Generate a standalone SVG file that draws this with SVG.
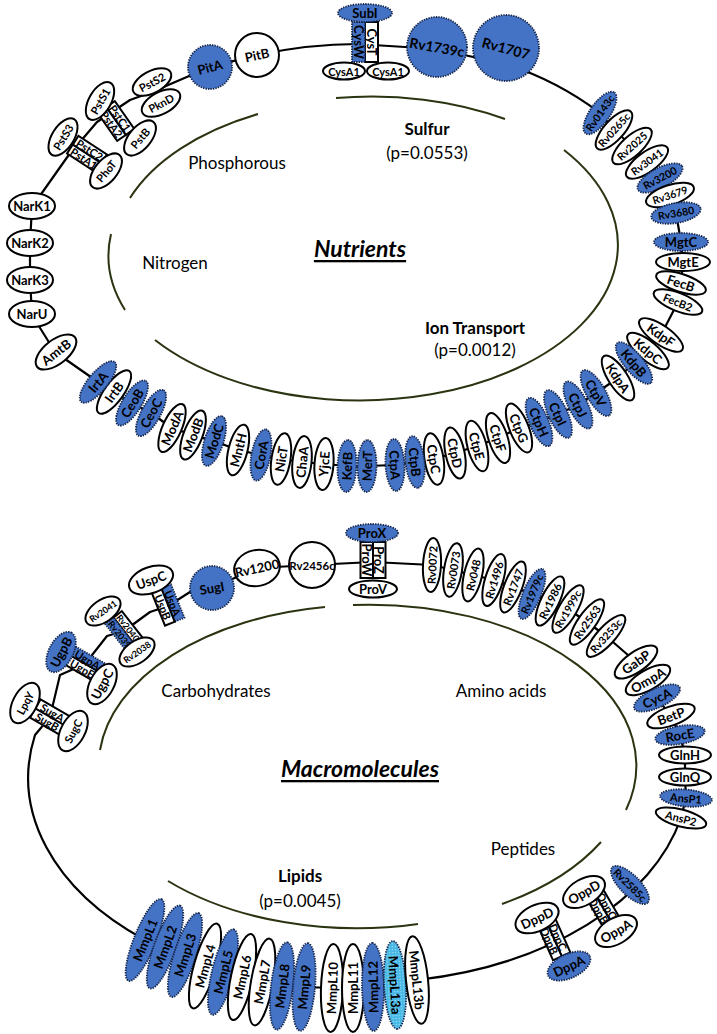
<svg xmlns="http://www.w3.org/2000/svg" width="717" height="1034" viewBox="0 0 717 1034">
<defs>
<style>
.w{fill:#fff;stroke:#000;stroke-width:2}
.b{fill:#4472c4;stroke:#14264d;stroke-width:1.8;stroke-dasharray:1.4 1.1}
.c{fill:url(#hatch);stroke:#14264d;stroke-width:1.8;stroke-dasharray:1.4 1.1}
.ring{fill:none;stroke:#000;stroke-width:2.2;stroke-linejoin:round}
.arc{fill:none;stroke:#2a3410;stroke-width:2}
text{font-family:Lato,'Open Sans',sans-serif;text-anchor:middle;dominant-baseline:central;fill:#000}
.t{font-weight:bold;font-size:13px}
.s{font-weight:bold;font-size:11px}
.r{font-weight:bold;font-size:10.5px}
.big{font-weight:bold;font-size:14px}
.lab{font-size:17px}
.labb{font-size:17px;font-weight:bold}
.title{font-size:23px;font-weight:bold;font-style:italic;text-decoration:underline}
</style>
<pattern id="hatch" width="3" height="3" patternUnits="userSpaceOnUse"><rect width="3" height="3" fill="#46b8e6"/><rect width="1.2" height="1.2" fill="#a6def4"/></pattern>
</defs>
<rect width="717" height="1034" fill="#fff"/>

<g id="connectors">
<path class="ring" d="M257 55 Q310 44 357 44 L437 49 L505 64 Q556 80 600 113 L614 130 L632 146 L647 162 L660 178 L670 195 L676 213 L681 242 L683 262 L681 283 L678 302 L661 335 L648 351 L634 363 L618 378 L596 393 L578 405 L558 414 L539 422 L519 428 L498 438 L477 446 L455 453 L434 459 L415 462 L395 465 L367 466 L347 466 L324 464 L302 462 L281 459 L261 455 L238 450 L214 441 L193 435 L172 428 L151 413 L132 403 L114 392 L98 382 L55 352 L32 315 L30 279 L30 243 L32 207 L68 156 L97 122 L130 100 L152 92 L210 67 Z"/>
<path class="ring" d="M212 588 L257 568 L312 565 L373 562 L432 565 L453 570 L473 575 L494 580 L513 587 L532 594 L550 601 L568 609 L587 622 L606 636 L636 662 L648 680 L657 698 L671 716 L680 735 L685 755 L685 777 L686 798 L681 818 A328 212 0 0 1 417 980 L395 985 L373 987 L353 988 L332 988 L304 987 L282 986 L262 982 L242 977 L223 972 L205 966 L185 955 L165 947 L145 940 A328 212 0 0 1 35 735 L50 717 L60 675 L85 664 L107 636 L124 631 L150 612 L168 606 L190 592 Z"/>
</g>

<g id="inner-arcs">
<path class="arc" d="M125 310 A256 154 0 0 1 111 234"/>
<path class="arc" d="M130 198 A256 154 0 0 1 258 114"/>
<path class="arc" d="M336 98 A256 154 0 0 1 505 119"/>
<path class="arc" d="M564 150 A256 154 0 1 1 155 340"/>
<path class="arc" d="M100 750 A267 161 0 0 1 325 607"/>
<path class="arc" d="M353 605 A267 161 0 0 1 626 810"/>
<path class="arc" d="M601 842 A267 161 0 0 1 502 904"/>
<path class="arc" d="M418 924 A267 161 0 0 1 168 881"/>
</g>

<g id="labels">
<text class="labb" x="427" y="128">Sulfur</text>
<text class="lab" x="427" y="152">(p=0.0553)</text>
<text class="lab" x="237" y="162">Phosphorous</text>
<text class="lab" x="175" y="262">Nitrogen</text>
<text class="title" x="360" y="248">Nutrients</text>
<text class="labb" x="475" y="327">Ion Transport</text>
<text class="lab" x="475" y="349">(p=0.0012)</text>
<text class="lab" x="216" y="690">Carbohydrates</text>
<text class="lab" x="501" y="690">Amino acids</text>
<text class="title" x="360" y="768">Macromolecules</text>
<text class="lab" x="523" y="848">Peptides</text>
<text class="labb" x="300" y="875">Lipids</text>
<text class="lab" x="300" y="900">(p=0.0045)</text>
</g>

<!-- Sulfur complex -->
<g id="cys-complex">
<g transform="translate(365,42) rotate(90)">
<rect class="w" x="-20" y="-13" width="40" height="13"/>
<rect class="b" x="-20" y="0" width="40" height="13"/>
<text class="t" x="0" y="-6.5">CysT</text>
<text class="t" x="0" y="6.5">CysW</text>
</g>
</g>
<g id="n-SubI"><ellipse class="b" cx="365" cy="13" rx="27" ry="9"/><text class="t" x="365" y="13">SubI</text></g>
<g id="n-CysA1a"><ellipse class="w" cx="344" cy="71" rx="21" ry="8.5"/><text class="s" x="344" y="71">CysA1</text></g>
<g id="n-CysA1b"><ellipse class="w" cx="388" cy="71" rx="21" ry="8.5"/><text class="s" x="388" y="71">CysA1</text></g>
<g id="n-PitA"><circle class="b" cx="210" cy="67" r="22"/><text class="t" x="210" y="67" transform="rotate(-15 210 67)">PitA</text></g>
<g id="n-PitB"><circle class="w" cx="257" cy="55" r="22"/><text class="t" x="257" y="55" transform="rotate(-12 257 55)">PitB</text></g>
<g id="n-Rv1739c"><circle class="b" cx="437" cy="47" r="30"/><text class="big" x="437" y="47" transform="rotate(10 437 47)">Rv1739c</text></g>
<g id="n-Rv1707"><circle class="b" cx="506" cy="48" r="33"/><text class="big" x="506" y="48" transform="rotate(15 506 48)">Rv1707</text></g>

<!-- Phosphate complexes -->
<g id="pst-complex1" transform="translate(116,121) rotate(55)">
<rect class="w" x="-17" y="-10.5" width="34" height="10.5"/>
<rect class="w" x="-17" y="0" width="34" height="10.5"/>
<text class="s" x="0" y="-5.2">PstC1</text>
<text class="s" x="0" y="5.2">PstA2</text>
</g>
<g id="pst-complex2" transform="translate(87,154) rotate(33)">
<rect class="w" x="-17" y="-10.5" width="34" height="10.5"/>
<rect class="w" x="-17" y="0" width="34" height="10.5"/>
<text class="s" x="0" y="-5.2">PstC2</text>
<text class="s" x="0" y="5.2">PstA1</text>
</g>
<g id="n-PstS2" transform="translate(152,82) rotate(-28)"><ellipse class="w" rx="21" ry="11"/><text class="s">PstS2</text></g>
<g id="n-PknD" transform="translate(161,103) rotate(-28)"><ellipse class="w" rx="21" ry="11"/><text class="s">PknD</text></g>
<g id="n-PstS1" transform="translate(100,101) rotate(-60)"><ellipse class="w" rx="21" ry="11"/><text class="s">PstS1</text></g>
<g id="n-PstB" transform="translate(140,138) rotate(-50)"><ellipse class="w" rx="21" ry="11"/><text class="s">PstB</text></g>
<g id="n-PstS3" transform="translate(63,137) rotate(-58)"><ellipse class="w" rx="21" ry="11"/><text class="s">PstS3</text></g>
<g id="n-PhoT" transform="translate(106,171) rotate(-50)"><ellipse class="w" rx="21" ry="11"/><text class="s">PhoT</text></g>

<!-- Nitrogen -->
<g id="n-NarK1"><ellipse class="w" cx="32" cy="206" rx="23" ry="13"/><text class="t" x="32" y="206">NarK1</text></g>
<g id="n-NarK2"><ellipse class="w" cx="30" cy="243" rx="23" ry="13"/><text class="t" x="30" y="243">NarK2</text></g>
<g id="n-NarK3"><ellipse class="w" cx="30" cy="280" rx="23" ry="13"/><text class="t" x="30" y="280">NarK3</text></g>
<g id="n-NarU"><ellipse class="w" cx="32" cy="314" rx="23" ry="13"/><text class="t" x="32" y="314">NarU</text></g>
<g id="n-AmtB" transform="translate(56,352) rotate(-38)"><ellipse class="w" rx="24" ry="12"/><text class="t">AmtB</text></g>

<!-- Top right chain -->
<g id="n-Rv0143c" transform="translate(600,113) rotate(-55)"><ellipse class="b" rx="25" ry="10"/><text class="r">Rv0143c</text></g>
<g id="n-Rv0265c" transform="translate(614,130) rotate(-48)"><ellipse class="w" rx="25" ry="10"/><text class="r">Rv0265c</text></g>
<g id="n-Rv2025" transform="translate(632,146) rotate(-42)"><ellipse class="w" rx="25" ry="10"/><text class="r">Rv2025</text></g>
<g id="n-Rv3041" transform="translate(647,162) rotate(-36)"><ellipse class="w" rx="25" ry="10"/><text class="r">Rv3041</text></g>
<g id="n-Rv3200" transform="translate(660,178) rotate(-28)"><ellipse class="b" rx="25" ry="10"/><text class="r">Rv3200</text></g>
<g id="n-Rv3679" transform="translate(670,195) rotate(-18)"><ellipse class="w" rx="25" ry="10"/><text class="r">Rv3679</text></g>
<g id="n-Rv3680" transform="translate(676,213) rotate(-10)"><ellipse class="b" rx="25" ry="10"/><text class="r">Rv3680</text></g>
<g id="n-MgtC" transform="translate(681,242)"><ellipse class="b" rx="27" ry="9"/><text class="t">MgtC</text></g>
<g id="n-MgtE" transform="translate(683,262)"><ellipse class="w" rx="27" ry="9"/><text class="t">MgtE</text></g>
<g id="n-FecB" transform="translate(681,283) rotate(18)"><ellipse class="w" rx="26" ry="9"/><text class="t">FecB</text></g>
<g id="n-FecB2" transform="translate(678,302) rotate(22)"><ellipse class="w" rx="26" ry="9"/><text class="s">FecB2</text></g>
<g id="n-KdpF" transform="translate(661,335) rotate(35)"><ellipse class="w" rx="26" ry="9.5"/><text class="t">KdpF</text></g>
<g id="n-KdpC" transform="translate(648,351) rotate(40)"><ellipse class="w" rx="26" ry="9.5"/><text class="t">KdpC</text></g>
<g id="n-KdpB" transform="translate(634,363) rotate(50)"><ellipse class="b" rx="26" ry="9.5"/><text class="t">KdpB</text></g>
<g id="n-KdpA" transform="translate(618,378) rotate(57)"><ellipse class="w" rx="26" ry="9.5"/><text class="t">KdpA</text></g>
<g id="n-CtpV" transform="translate(596,393) rotate(60)"><ellipse class="b" rx="26" ry="9.5"/><text class="t">CtpV</text></g>
<g id="n-CtpJ" transform="translate(578,405) rotate(63)"><ellipse class="b" rx="26" ry="9.5"/><text class="t">CtpJ</text></g>
<g id="n-CtpI" transform="translate(558,414) rotate(65)"><ellipse class="b" rx="26" ry="9.5"/><text class="t">CtpI</text></g>
<g id="n-CtpH" transform="translate(539,422) rotate(67)"><ellipse class="b" rx="26" ry="9.5"/><text class="t">CtpH</text></g>
<g id="n-CtpG" transform="translate(519,428) rotate(68)"><ellipse class="w" rx="26" ry="9.5"/><text class="t">CtpG</text></g>
<g id="n-CtpF" transform="translate(498,438) rotate(72)"><ellipse class="w" rx="26" ry="9.5"/><text class="t">CtpF</text></g>
<g id="n-CtpE" transform="translate(477,446) rotate(75)"><ellipse class="w" rx="26" ry="9.5"/><text class="t">CtpE</text></g>
<g id="n-CtpD" transform="translate(455,453) rotate(78)"><ellipse class="w" rx="26" ry="9.5"/><text class="t">CtpD</text></g>
<g id="n-CtpC" transform="translate(434,459) rotate(81)"><ellipse class="w" rx="26" ry="9.5"/><text class="t">CtpC</text></g>
<g id="n-CtpB" transform="translate(415,462) rotate(84)"><ellipse class="b" rx="26" ry="9.5"/><text class="t">CtpB</text></g>
<g id="n-CtpA" transform="translate(395,465) rotate(87)"><ellipse class="b" rx="26" ry="9.5"/><text class="t">CtpA</text></g>
<g id="n-MerT" transform="translate(367,466) rotate(-89)"><ellipse class="b" rx="26" ry="9.5"/><text class="t">MerT</text></g>
<g id="n-KefB" transform="translate(347,466) rotate(-88)"><ellipse class="b" rx="26" ry="9.5"/><text class="t">KefB</text></g>
<g id="n-YjcE" transform="translate(324,464) rotate(-86)"><ellipse class="w" rx="26" ry="9.5"/><text class="t">YjcE</text></g>
<g id="n-ChaA" transform="translate(302,462) rotate(-84)"><ellipse class="w" rx="26" ry="9.5"/><text class="t">ChaA</text></g>
<g id="n-NicT" transform="translate(281,459) rotate(-81)"><ellipse class="w" rx="26" ry="9.5"/><text class="t">NicT</text></g>
<g id="n-CorA" transform="translate(261,455) rotate(-79)"><ellipse class="b" rx="26" ry="9.5"/><text class="t">CorA</text></g>
<g id="n-MntH" transform="translate(238,450) rotate(-76)"><ellipse class="w" rx="26" ry="9.5"/><text class="t">MntH</text></g>
<g id="n-ModC" transform="translate(214,441) rotate(-72)"><ellipse class="b" rx="26" ry="9.5"/><text class="t">ModC</text></g>
<g id="n-ModB" transform="translate(193,435) rotate(-69)"><ellipse class="w" rx="26" ry="9.5"/><text class="t">ModB</text></g>
<g id="n-ModA" transform="translate(172,428) rotate(-66)"><ellipse class="w" rx="26" ry="9.5"/><text class="t">ModA</text></g>
<g id="n-CeoC" transform="translate(151,413) rotate(-61)"><ellipse class="b" rx="26" ry="9.5"/><text class="t">CeoC</text></g>
<g id="n-CeoB" transform="translate(132,403) rotate(-58)"><ellipse class="b" rx="26" ry="9.5"/><text class="t">CeoB</text></g>
<g id="n-IrtB" transform="translate(114,392) rotate(-54)"><ellipse class="w" rx="26" ry="9.5"/><text class="t">IrtB</text></g>
<g id="n-IrtA" transform="translate(98,382) rotate(-50)"><ellipse class="b" rx="26" ry="9.5"/><text class="t">IrtA</text></g>

<!-- Bottom circle: carbohydrate complexes -->
<g id="sug-complex" transform="translate(50,717) rotate(30)">
<rect class="w" x="-17" y="-10.5" width="34" height="10.5"/>
<rect class="w" x="-17" y="0" width="34" height="10.5"/>
<text class="s" x="0" y="-5.2">SugA</text>
<text class="s" x="0" y="5.2">SugB</text>
</g>
<g id="ugp-complex" transform="translate(85,664) rotate(30)">
<rect class="b" x="-17" y="-10.5" width="34" height="10.5"/>
<rect class="w" x="-17" y="0" width="34" height="10.5"/>
<text class="s" x="0" y="-5.2">UgpA</text>
<text class="s" x="0" y="5.2">UgpE</text>
</g>
<g id="rv2040-complex" transform="translate(124,631) rotate(52)">
<rect class="w" x="-17" y="-10.5" width="34" height="10.5"/>
<rect class="b" x="-17" y="0" width="34" height="10.5"/>
<text class="r" x="0" y="-5.2" style="font-size:9px">Rv2040</text>
<text class="r" x="0" y="5.2" style="font-size:9px">Rv2039</text>
</g>
<g id="usp-complex" transform="translate(168,605) rotate(68)">
<rect class="b" x="-18" y="-10.5" width="36" height="10.5"/>
<rect class="w" x="-18" y="0" width="36" height="10.5"/>
<text class="s" x="0" y="-5.2">UspA</text>
<text class="s" x="0" y="5.2">UspB</text>
</g>
<g id="n-LpqY" transform="translate(25,703) rotate(-62)"><ellipse class="w" rx="22" ry="12"/><text class="s">LpqY</text></g>
<g id="n-SugC" transform="translate(73,731) rotate(-62)"><ellipse class="w" rx="22" ry="12"/><text class="s">SugC</text></g>
<g id="n-UgpB" transform="translate(61,652) rotate(-62)"><ellipse class="b" rx="22" ry="12"/><text class="t">UgpB</text></g>
<g id="n-UgpC" transform="translate(102,684) rotate(-62)"><ellipse class="w" rx="22" ry="12"/><text class="t">UgpC</text></g>
<g id="n-Rv2041" transform="translate(103,611) rotate(-35)"><ellipse class="w" rx="20" ry="11"/><text class="r" style="font-size:9px">Rv2041</text></g>
<g id="n-Rv2038" transform="translate(137,652) rotate(-35)"><ellipse class="w" rx="20" ry="11"/><text class="r" style="font-size:9px">Rv2038</text></g>
<g id="n-UspC" transform="translate(151,580) rotate(-20)"><ellipse class="w" rx="23" ry="13"/><text class="t">UspC</text></g>
<g id="n-SugI"><circle class="b" cx="212" cy="588" r="22"/><text class="t" x="212" y="588" transform="rotate(-10 212 588)">SugI</text></g>
<g id="n-Rv1200" transform="translate(257,568) rotate(-12)"><ellipse class="w" rx="23" ry="18"/><text class="t">Rv1200</text></g>
<g id="n-Rv2456c"><circle class="w" cx="312" cy="565" r="23"/><text class="t" x="312" y="565" style="font-size:11.5px">Rv2456c</text></g>

<!-- Amino acids -->
<g id="pro-complex" transform="translate(373,560) rotate(90)">
<rect class="w" x="-18" y="-12.5" width="36" height="12.5"/>
<rect class="w" x="-18" y="0" width="36" height="12.5"/>
<text class="t" x="0" y="-6.2">ProZ</text>
<text class="t" x="0" y="6.2">ProW</text>
</g>
<g id="n-ProX"><ellipse class="b" cx="372" cy="533" rx="26" ry="9"/><text class="t" x="372" y="533">ProX</text></g>
<g id="n-ProV"><ellipse class="w" cx="373" cy="589" rx="24" ry="8.5"/><text class="t" x="373" y="589">ProV</text></g>
<g id="n-Rv0072" transform="translate(432,565) rotate(-87)"><ellipse class="w" rx="27" ry="9"/><text class="s">Rv0072</text></g>
<g id="n-Rv0073" transform="translate(453,570) rotate(-81)"><ellipse class="w" rx="27" ry="9"/><text class="s">Rv0073</text></g>
<g id="n-Rv048" transform="translate(473,575) rotate(-77)"><ellipse class="w" rx="27" ry="9"/><text class="s">Rv048</text></g>
<g id="n-Rv1496" transform="translate(494,580) rotate(-73)"><ellipse class="w" rx="27" ry="9"/><text class="s">Rv1496</text></g>
<g id="n-Rv1747" transform="translate(513,587) rotate(-69)"><ellipse class="w" rx="27" ry="9"/><text class="s">Rv1747</text></g>
<g id="n-Rv1979c" transform="translate(532,594) rotate(-67)"><ellipse class="b" rx="27" ry="9"/><text class="r">Rv1979c</text></g>
<g id="n-Rv1986" transform="translate(550,601) rotate(-64)"><ellipse class="w" rx="27" ry="9"/><text class="s">Rv1986</text></g>
<g id="n-Rv1999c" transform="translate(568,609) rotate(-60)"><ellipse class="w" rx="27" ry="9"/><text class="r">Rv1999c</text></g>
<g id="n-Rv2563" transform="translate(587,622) rotate(-55)"><ellipse class="w" rx="27" ry="9"/><text class="s">Rv2563</text></g>
<g id="n-Rv3253c" transform="translate(606,636) rotate(-48)"><ellipse class="w" rx="27" ry="9"/><text class="r">Rv3253c</text></g>
<g id="n-GabP" transform="translate(636,662) rotate(-35)"><ellipse class="w" rx="25" ry="10"/><text class="t">GabP</text></g>
<g id="n-OmpA" transform="translate(648,680) rotate(-30)"><ellipse class="w" rx="25" ry="10"/><text class="t">OmpA</text></g>
<g id="n-CycA" transform="translate(657,698) rotate(-25)"><ellipse class="b" rx="25" ry="9.5"/><text class="t">CycA</text></g>
<g id="n-BetP" transform="translate(671,716) rotate(-20)"><ellipse class="w" rx="25" ry="9.5"/><text class="t">BetP</text></g>
<g id="n-RocE" transform="translate(680,735) rotate(-10)"><ellipse class="b" rx="25" ry="9"/><text class="t">RocE</text></g>
<g id="n-GlnH" transform="translate(685,755)"><ellipse class="w" rx="26" ry="8.5"/><text class="t">GlnH</text></g>
<g id="n-GlnQ" transform="translate(685,777)"><ellipse class="w" rx="26" ry="8.5"/><text class="t">GlnQ</text></g>
<g id="n-AnsP1" transform="translate(686,798) rotate(5)"><ellipse class="b" rx="26" ry="8.5"/><text class="s">AnsP1</text></g>
<g id="n-AnsP2" transform="translate(681,818) rotate(15)"><ellipse class="w" rx="26" ry="8.5"/><text class="s">AnsP2</text></g>

<!-- Peptides -->
<g id="n-Rv2585c" transform="translate(630,885) rotate(45)"><ellipse class="b" rx="25" ry="10"/><text class="r">Rv2585c</text></g>
<g id="opp-complex" transform="translate(603,908) rotate(60)">
<rect class="w" x="-19" y="-9.5" width="38" height="9.5"/>
<rect class="w" x="-19" y="0" width="38" height="9.5"/>
<text class="s" x="0" y="-4.8">OppC</text>
<text class="s" x="0" y="4.8">OppB</text>
</g>
<g id="dpp-complex" transform="translate(554,939) rotate(66)">
<rect class="w" x="-19" y="-9.5" width="38" height="9.5"/>
<rect class="w" x="-19" y="0" width="38" height="9.5"/>
<text class="s" x="0" y="-4.8">DppC</text>
<text class="s" x="0" y="4.8">DppB</text>
</g>
<g id="n-OppD" transform="translate(584,892) rotate(-30)"><ellipse class="w" rx="23" ry="13"/><text class="t">OppD</text></g>
<g id="n-OppA" transform="translate(616,931) rotate(-30)"><ellipse class="w" rx="23" ry="13"/><text class="t">OppA</text></g>
<g id="n-DppD" transform="translate(537,918) rotate(-25)"><ellipse class="w" rx="23" ry="13"/><text class="t">DppD</text></g>
<g id="n-DppA" transform="translate(569,966) rotate(-25)"><ellipse class="b" rx="23" ry="12"/><text class="t">DppA</text></g>

<!-- Lipids -->
<g id="n-MmpL1" transform="translate(145,940) rotate(-68)"><ellipse class="b" rx="44" ry="11"/><text class="t">MmpL1</text></g>
<g id="n-MmpL2" transform="translate(165,947) rotate(-70)"><ellipse class="b" rx="44" ry="11"/><text class="t">MmpL2</text></g>
<g id="n-MmpL3" transform="translate(185,955) rotate(-72)"><ellipse class="b" rx="44" ry="11"/><text class="t">MmpL3</text></g>
<g id="n-MmpL4" transform="translate(205,966) rotate(-74)"><ellipse class="w" rx="44" ry="11"/><text class="t">MmpL4</text></g>
<g id="n-MmpL5" transform="translate(223,972) rotate(-76)"><ellipse class="b" rx="44" ry="11"/><text class="t">MmpL5</text></g>
<g id="n-MmpL6" transform="translate(242,977) rotate(-78)"><ellipse class="w" rx="44" ry="11"/><text class="t">MmpL6</text></g>
<g id="n-MmpL7" transform="translate(262,982) rotate(-80)"><ellipse class="w" rx="44" ry="11"/><text class="t">MmpL7</text></g>
<g id="n-MmpL8" transform="translate(282,986) rotate(-83)"><ellipse class="b" rx="44" ry="11"/><text class="t">MmpL8</text></g>
<g id="n-MmpL9" transform="translate(304,987) rotate(-85)"><ellipse class="b" rx="44" ry="11"/><text class="t">MmpL9</text></g>
<g id="n-MmpL10" transform="translate(332,988) rotate(-88)"><ellipse class="w" rx="44" ry="11"/><text class="t">MmpL10</text></g>
<g id="n-MmpL11" transform="translate(353,988) rotate(-90)"><ellipse class="w" rx="44" ry="11"/><text class="t">MmpL11</text></g>
<g id="n-MmpL12" transform="translate(373,987) rotate(-91)"><ellipse class="b" rx="44" ry="11"/><text class="t">MmpL12</text></g>
<g id="n-MmpL13a" transform="translate(395,985) rotate(87)"><ellipse class="c" rx="44" ry="11"/><text class="t">MmpL13a</text></g>
<g id="n-MmpL13b" transform="translate(417,980) rotate(84)"><ellipse class="w" rx="44" ry="11"/><text class="t">MmpL13b</text></g>
</svg>
